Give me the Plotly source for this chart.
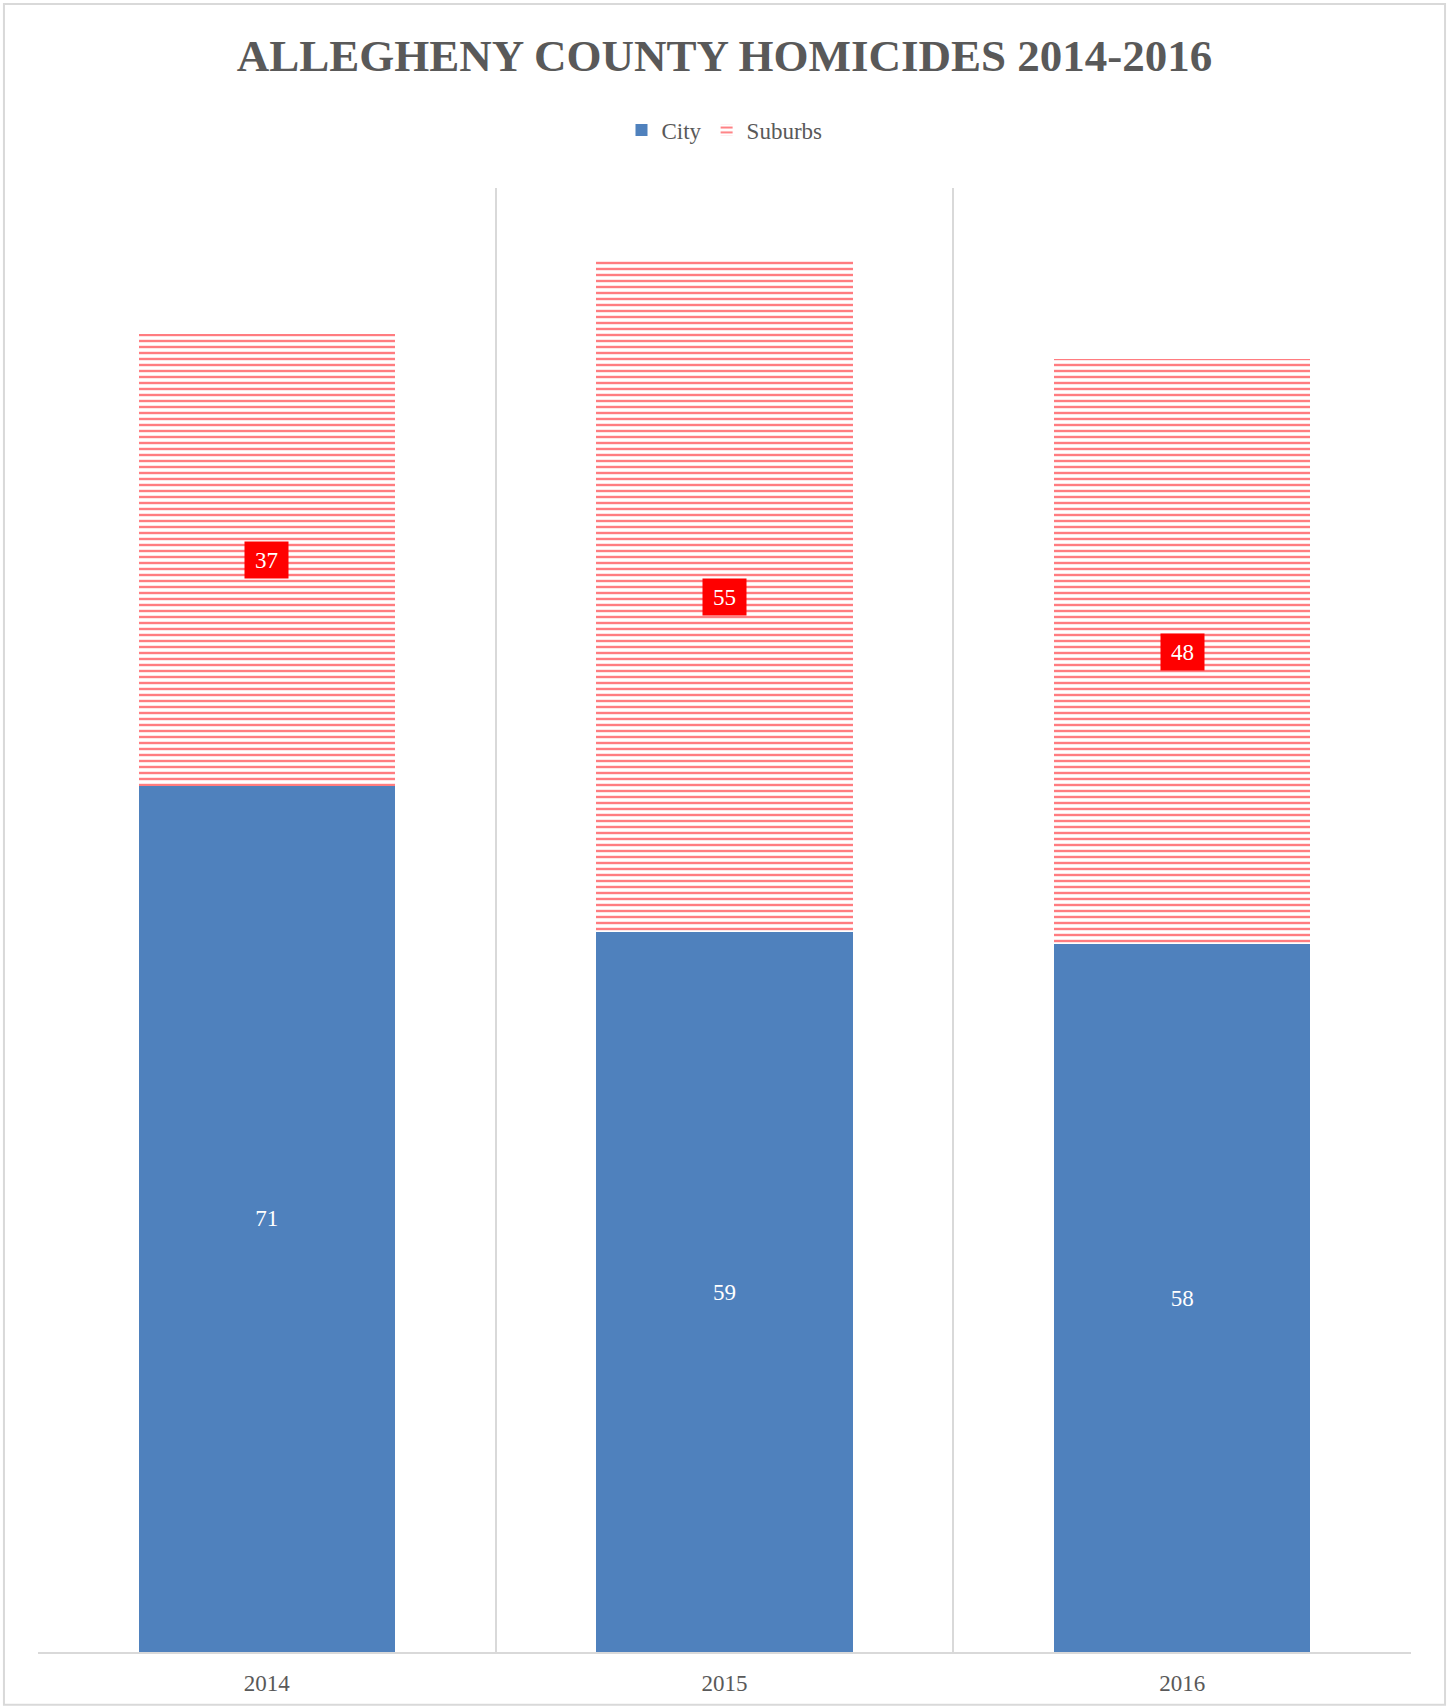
import plotly.graph_objects as go

years = ["2014", "2015", "2016"]
city = [71, 59, 58]
suburbs = [37, 55, 48]

BLUE = "#4F81BD"
PINK = "#FF7C80"
GRID = "#D9D9D9"
TEXT = "#595959"
SERIF = "Liberation Serif, DejaVu Serif, serif"

fig = go.Figure()

fig.add_trace(go.Bar(
    name="City", x=years, y=city,
    marker=dict(color=BLUE, line=dict(width=0)),
    text=[str(v) for v in city], textposition="inside",
    insidetextanchor="middle",
    textfont=dict(family=SERIF, size=23, color="white"),
    hoverinfo="x+y+name",
))

fig.add_trace(go.Bar(
    name="Suburbs", x=years, y=suburbs,
    marker=dict(
        color="white",
        line=dict(width=0),
        pattern=dict(shape="-", fgcolor=PINK, bgcolor="white",
                     size=6, solidity=0.4, fillmode="replace"),
    ),
    hoverinfo="x+y+name",
))

# boxed labels for the suburb segments, centred on each segment
# (category axis: position by category index)
for i, (c, s) in enumerate(zip(city, suburbs)):
    fig.add_annotation(
        x=i, y=c + s / 2, xref="x", yref="y",
        text=str(s), showarrow=False,
        font=dict(family=SERIF, size=23, color="white"),
        bgcolor="#FF0000", borderpad=6, width=31, height=24,
    )

# thin frame around the whole chart
fig.add_shape(type="rect", xref="paper", yref="paper",
              x0=-0.0248, x1=1.0248, y0=-0.036, y1=1.1257,
              line=dict(color=GRID, width=2), fillcolor="rgba(0,0,0,0)",
              layer="below")

fig.update_layout(
    barmode="stack",
    bargap=0.44,
    width=1451, height=1708,
    margin=dict(l=38, r=40, t=188, b=56, autoexpand=False),
    paper_bgcolor="white",
    plot_bgcolor="white",
    title=dict(
        text="<b>ALLEGHENY COUNTY HOMICIDES 2014-2016</b>",
        x=0.5, xanchor="center", xref="paper",
        y=1 - 55 / 1708, yref="container", yanchor="middle",
        font=dict(family=SERIF, size=45, color=TEXT),
    ),
    legend=dict(
        orientation="h", x=0.5, xanchor="center",
        y=1.0396, yanchor="middle",
        font=dict(family=SERIF, size=23, color=TEXT),
        traceorder="normal", itemwidth=30,
    ),
    xaxis=dict(
        type="category", range=[-0.5, 2.5], automargin=False,
        tickson="boundaries", ticks="",
        showgrid=True, gridcolor=GRID, gridwidth=2,
        showline=True, linecolor=GRID, linewidth=2, mirror=False,
        tickfont=dict(family=SERIF, size=23, color=TEXT),
        ticklabelstandoff=9,
    ),
    yaxis=dict(
        range=[0, 120], showgrid=False, showticklabels=False,
        zeroline=False, showline=False, ticks="", automargin=False,
    ),
    showlegend=True,
)

fig.write_html("out.html")
